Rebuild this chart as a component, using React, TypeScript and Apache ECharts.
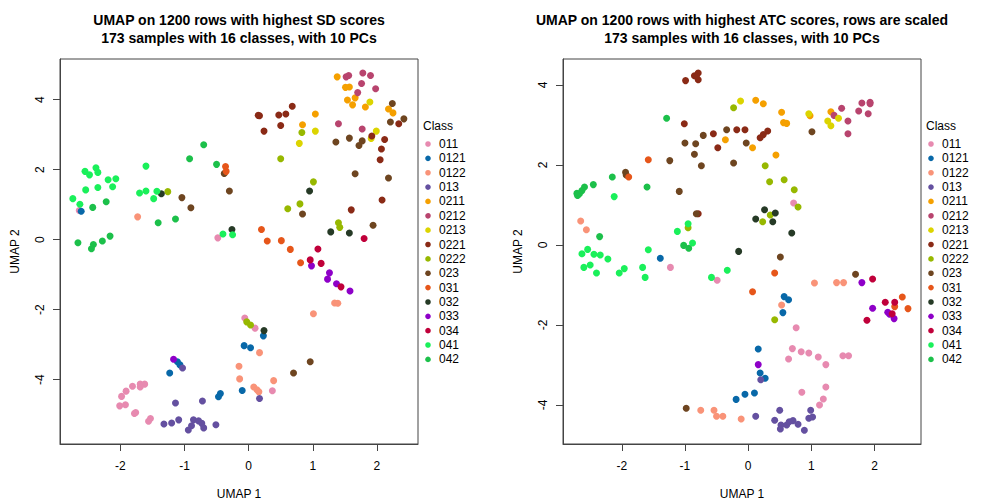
import React, { useEffect, useRef } from "react";
import * as echarts from "echarts";

const CLASSES = ["011", "0121", "0122", "013", "0211", "0212", "0213", "0221", "0222", "023", "031", "032", "033", "034", "041", "042"];
const COLORS = ["#E78AB0", "#0868A8", "#F99378", "#6450A0", "#F5A000", "#B8446E", "#DCD400", "#8A2A16", "#97B800", "#6E4520", "#E6561A", "#263A26", "#8E00C8", "#C0003A", "#1AF05A", "#1CC04A"];
const X_TICKS = [-2, -1, 0, 1, 2];
const Y_TICKS = [-4, -2, 0, 2, 4];

const TITLE_SD = ["UMAP on 1200 rows with highest SD scores", "173 samples with 16 classes, with 10 PCs"];
const TITLE_ATC = ["UMAP on 1200 rows with highest ATC scores, rows are scaled", "173 samples with 16 classes, with 10 PCs"];

// ---- Left panel (SD) ----
const SD_011 = [[-2.64, 0.83], [-0.48, 0.05], [-0.06, -2.24], [0.10, -2.53], [0.37, -4.32], [-1.81, -4.19], [-1.69, -4.13], [-1.62, -4.13], [-1.69, -4.21], [-1.91, -4.33], [-1.98, -4.48], [-2.01, -4.75], [-1.92, -4.72], [-1.76, -4.94], [-1.78, -4.97], [-1.53, -5.11], [-1.56, -5.19]];
const SD_0121 = [[-2.61, 0.81], [0.23, -2.75], [-0.07, -3.03], [0.03, -3.09], [-0.10, -4.31], [-1.11, -3.49], [-1.07, -3.58], [-1.23, -3.81], [-0.44, -4.40], [-0.47, -4.49]];
const SD_0122 = [[-1.73, 0.65], [1.34, -1.81], [1.39, -1.82], [1.01, -2.12], [0.17, -3.23], [-0.15, -3.62], [-0.14, -3.98], [0.08, -4.21], [0.13, -4.29], [0.16, -4.35], [0.39, -4.03]];
const SD_013 = [[0.17, -4.54], [-1.03, -3.67], [-1.14, -4.67], [-0.72, -4.61], [-1.32, -5.27], [-1.20, -5.24], [-1.09, -5.15], [-0.94, -5.44], [-0.89, -5.32], [-0.86, -5.15], [-0.78, -5.18], [-0.73, -5.25], [-0.70, -5.38], [-0.51, -5.29]];
const SD_0211 = [[1.38, 4.65], [1.51, 4.35], [1.57, 4.36], [1.54, 3.99], [1.66, 4.05], [1.62, 3.85], [1.82, 3.79], [2.18, 3.73], [2.25, 3.62], [1.04, 3.59], [0.84, 3.28]];
const SD_0212 = [[1.52, 4.65], [1.56, 4.69], [1.78, 4.76], [1.90, 4.69], [1.76, 4.46], [1.70, 4.20], [1.98, 4.31], [1.40, 3.31], [1.77, 3.16]];
const SD_0213 = [[1.89, 3.93], [1.04, 3.10], [1.99, 3.10], [1.91, 2.89], [0.79, 2.75]];
const SD_0221 = [[0.68, 3.81], [0.17, 3.54], [0.15, 3.55], [0.47, 3.56], [0.58, 3.59], [0.50, 3.26], [0.24, 3.10], [2.34, 3.31], [1.92, 2.96], [2.12, 2.86], [2.07, 2.59], [2.05, 2.28], [2.08, 1.13], [1.60, 0.85]];
const SD_0222 = [[-1.26, 1.37], [0.83, 3.06], [0.50, 2.31], [1.01, 1.65], [0.80, 1.02], [0.61, 0.88], [1.40, 0.48], [1.42, 0.35], [-0.03, -2.35], [0.03, -2.44]];
const SD_023 = [[-0.38, 1.89], [-0.30, 1.39], [-1.04, 1.20], [-0.90, 0.91], [2.24, 3.89], [2.21, 3.36], [2.42, 3.45], [1.57, 2.90], [1.77, 2.82], [1.72, 2.69], [1.36, 2.79], [1.66, 1.88], [2.18, 1.76], [0.84, 0.73], [1.94, 0.41], [0.96, -3.49], [0.70, -3.81]];
const SD_031 = [[-0.36, 2.09], [-0.35, 1.95], [0.20, 0.29], [0.29, -0.04], [0.51, -0.03], [0.65, -0.28], [0.81, -0.66]];
const SD_032 = [[-1.36, 1.31], [-0.26, 0.29], [0.95, 1.39], [1.28, 0.22], [1.57, 0.19], [0.24, -2.60]];
const SD_033 = [[0.98, -0.75], [1.26, -0.95], [1.23, -1.13], [1.37, -1.26], [1.58, -1.47], [-1.17, -3.42]];
const SD_034 = [[1.80, 0.03], [1.08, -0.27], [0.96, -0.58], [1.13, -0.68], [1.44, -1.35]];
const SD_041 = [[-1.60, 2.10], [-2.38, 2.05], [-2.55, 1.95], [-2.35, 1.92], [-2.48, 1.85], [-2.07, 1.74], [-2.19, 1.71], [-2.35, 1.49], [-2.12, 1.51], [-2.54, 1.42], [-2.74, 1.17], [-2.63, 1.01], [-1.70, 1.33], [-1.60, 1.39], [-1.43, 1.38], [-1.48, 1.17], [-0.40, 0.16], [-0.25, 0.14]];
const SD_042 = [[-0.70, 2.71], [-0.92, 2.31], [-0.50, 2.15], [-2.43, 0.92], [-2.22, 1.08], [-1.41, 0.48], [-1.14, 0.59], [-2.66, -0.09], [-2.42, -0.14], [-2.45, -0.26], [-2.28, -0.04], [-2.16, 0.10]];

// ---- Right panel (ATC) ----
const ATC_011 = [[0.72, 1.05], [-1.23, -0.56], [-0.49, -0.88], [0.76, -2.07], [0.70, -2.59], [0.84, -2.67], [0.96, -2.70], [0.64, -2.85], [1.11, -2.80], [1.23, -2.99], [1.50, -2.77], [1.59, -2.77], [0.85, -3.68], [1.23, -3.55], [1.19, -3.85], [1.13, -4.00]];
const ATC_0121 = [[-1.39, -0.33], [0.57, -1.29], [0.64, -1.37], [0.55, -1.69], [0.16, -2.60], [0.19, -3.20], [0.27, -3.33], [-0.19, -3.86], [-0.05, -3.73], [0.10, -3.70]];
const ATC_0122 = [[-2.65, 0.60], [-2.56, 0.38], [1.05, -0.95], [1.40, -0.94], [1.51, -0.94], [0.53, -1.50], [-0.75, -4.13], [-0.54, -4.13], [-0.50, -4.28], [-0.40, -4.28], [-0.11, -4.35]];
const ATC_013 = [[0.20, -3.37], [0.12, -4.28], [0.50, -4.13], [0.42, -4.38], [0.52, -4.50], [0.51, -4.60], [0.61, -4.50], [0.65, -4.42], [0.71, -4.39], [0.79, -4.48], [0.89, -4.63], [0.99, -4.13], [0.96, -4.33], [1.02, -4.30]];
const ATC_0211 = [[0.12, 3.62], [0.24, 3.53], [0.53, 3.32], [0.56, 3.06], [0.61, 3.04], [0.98, 3.23], [1.31, 3.33], [-0.36, 2.63], [0.07, 2.43], [0.44, 2.25]];
const ATC_0212 = [[1.36, 3.24], [1.48, 3.42], [1.58, 3.10], [1.58, 2.78], [1.75, 3.35], [1.80, 3.55], [1.93, 3.57], [1.93, 3.53], [1.90, 3.28]];
const ATC_0213 = [[-0.12, 3.60], [0.96, 3.28], [1.26, 3.10], [1.31, 2.98], [1.43, 3.17]];
const ATC_0221 = [[-0.99, 4.11], [-0.85, 4.23], [-0.79, 4.30], [-0.79, 4.13], [-0.82, 4.22], [-1.01, 3.03], [-0.55, 2.78], [-0.18, 2.88], [-0.05, 2.88], [-0.48, 2.43], [0.19, 2.68], [0.24, 2.76], [0.31, 2.85], [-0.79, 0.78]];
const ATC_0222 = [[-0.23, 3.43], [0.27, 1.98], [0.34, 1.58], [0.57, 1.63], [0.73, 1.38], [0.79, 0.95], [0.35, 0.75], [0.23, 0.58], [-0.95, 0.43], [0.42, -1.87]];
const ATC_023 = [[1.01, 2.83], [-1.00, 2.55], [-0.83, 2.53], [-0.71, 2.74], [-0.34, 2.88], [-0.03, 2.55], [-0.85, 2.27], [-0.74, 1.98], [-1.24, 2.11], [-0.23, 2.05], [-1.94, 1.82], [-1.93, 1.75], [-1.09, 1.34], [-0.82, 0.78], [0.51, -0.30], [1.70, -0.73], [-0.98, -4.08]];
const ATC_031 = [[-1.58, 2.13], [-1.89, 1.70], [0.42, -0.70], [0.07, -1.17], [2.44, -1.30], [2.32, -1.54], [2.53, -1.59]];
const ATC_032 = [[0.26, 0.88], [0.43, 0.80], [0.12, 0.65], [0.39, 0.58], [0.69, 0.30], [-0.15, -0.16]];
const ATC_033 = [[1.80, -0.94], [1.97, -1.58], [2.21, -1.68], [2.24, -1.73], [2.31, -1.84], [0.16, -2.99]];
const ATC_034 = [[1.97, -0.85], [2.17, -1.43], [2.32, -1.43], [2.28, -1.72], [1.88, -1.88]];
const ATC_041 = [[-2.12, 1.21], [-0.95, 0.53], [-1.12, 0.34], [-0.88, 0.05], [-2.54, -0.11], [-2.63, -0.22], [-2.44, -0.23], [-2.34, -0.25], [-2.22, -0.35], [-2.60, -0.56], [-2.50, -0.50], [-2.40, -0.70], [-2.04, -0.70], [-1.96, -0.59], [-1.67, -0.56], [-1.63, -0.81], [-1.58, -0.12], [-0.58, -0.81], [-0.33, -0.63]];
const ATC_042 = [[-1.29, 3.17], [-2.15, 1.70], [-2.45, 1.51], [-2.59, 1.45], [-2.63, 1.36], [-2.71, 1.29], [-2.67, 1.28], [-2.70, 1.24], [-1.60, 1.45], [-2.35, 0.21], [-1.02, -0.01], [-0.94, -0.08]];

const SD_POINTS = [SD_011, SD_0121, SD_0122, SD_013, SD_0211, SD_0212, SD_0213, SD_0221, SD_0222, SD_023, SD_031, SD_032, SD_033, SD_034, SD_041, SD_042];
const ATC_POINTS = [ATC_011, ATC_0121, ATC_0122, ATC_013, ATC_0211, ATC_0212, ATC_0213, ATC_0221, ATC_0222, ATC_023, ATC_031, ATC_032, ATC_033, ATC_034, ATC_041, ATC_042];

const FONT = "'Liberation Sans', Arial, Helvetica, sans-serif";

const PANELS = [
  { left: 60, xMin: -2.94, xMax: 2.64, yMin: -5.84, yMax: 5.16, title: TITLE_SD, points: SD_POINTS },
  { left: 563, xMin: -2.93, xMax: 2.736, yMin: -4.975, yMax: 4.65, title: TITLE_ATC, points: ATC_POINTS },
];
const GRID_TOP = 59;
const GRID_W = 358;
const GRID_H = 385;

export default function App() {
  const ref = useRef<HTMLDivElement>(null);
  useEffect(() => {
    if (!ref.current) return;
    const chart = echarts.init(ref.current, undefined, { renderer: "svg" });

    const grids: any[] = [];
    const xAxes: any[] = [];
    const yAxes: any[] = [];
    const series: any[] = [];
    const graphics: any[] = [];

    PANELS.forEach((p, pi) => {
      grids.push({ left: p.left, top: GRID_TOP, width: GRID_W, height: GRID_H, show: true, borderColor: "#444", borderWidth: 1, backgroundColor: "transparent", containLabel: false });
      const tickStyle = { show: true, inside: false, length: 7, lineStyle: { color: "#444", width: 1 } };
      const lineStyle = { show: true, onZero: false, lineStyle: { color: "#444", width: 1 } };
      xAxes.push({
        gridIndex: pi, type: "value", min: p.xMin, max: p.xMax, position: "bottom",
        axisLine: lineStyle, splitLine: { show: false },
        axisTick: { ...tickStyle, customValues: X_TICKS },
        axisLabel: { customValues: X_TICKS, margin: 16, fontSize: 12, color: "#000", fontFamily: FONT },
      });
      yAxes.push({
        gridIndex: pi, type: "value", min: p.yMin, max: p.yMax, position: "left",
        axisLine: lineStyle, splitLine: { show: false },
        axisTick: { ...tickStyle, customValues: Y_TICKS },
        axisLabel: { customValues: Y_TICKS, rotate: 90, margin: 14, fontSize: 12, color: "#000", fontFamily: FONT },
      });
      p.points.forEach((pts, ci) => {
        series.push({
          type: "scatter", name: CLASSES[ci], xAxisIndex: pi, yAxisIndex: pi,
          data: pts, symbol: "circle", symbolSize: 7,
          itemStyle: { color: COLORS[ci], opacity: 1 }, silent: true,
        });
      });
      const cx = p.left + GRID_W / 2;
      graphics.push({ type: "text", x: cx, y: 20, style: { text: p.title[0], textAlign: "center", textVerticalAlign: "middle", fontSize: 14, fontWeight: "bold", fontFamily: FONT, fill: "#000" } });
      graphics.push({ type: "text", x: cx, y: 38, style: { text: p.title[1], textAlign: "center", textVerticalAlign: "middle", fontSize: 14, fontWeight: "bold", fontFamily: FONT, fill: "#000" } });
      graphics.push({ type: "text", x: cx, y: 494, style: { text: "UMAP 1", textAlign: "center", textVerticalAlign: "middle", fontSize: 12, fontFamily: FONT, fill: "#000" } });
      graphics.push({ type: "text", x: p.left - 45, y: GRID_TOP + GRID_H / 2, rotation: Math.PI / 2, style: { text: "UMAP 2", textAlign: "center", textVerticalAlign: "middle", fontSize: 12, fontFamily: FONT, fill: "#000" } });
      const lx = p.left + GRID_W + 5;
      graphics.push({ type: "text", x: lx, y: 126, style: { text: "Class", textAlign: "left", textVerticalAlign: "middle", fontSize: 12, fontFamily: FONT, fill: "#000" } });
      CLASSES.forEach((c, ci) => {
        const yy = 144 + 14.36 * ci;
        graphics.push({ type: "circle", shape: { cx: lx + 5, cy: yy, r: 2.8 }, style: { fill: COLORS[ci] } });
        graphics.push({ type: "text", x: lx + 16, y: yy, style: { text: c, textAlign: "left", textVerticalAlign: "middle", fontSize: 12, fontFamily: FONT, fill: "#000" } });
      });
    });

    chart.setOption({
      animation: false,
      backgroundColor: "#fff",
      grid: grids,
      xAxis: xAxes,
      yAxis: yAxes,
      series,
      graphic: graphics,
    });
    return () => chart.dispose();
  }, []);
  return <div ref={ref} style={{ position: "fixed", left: 0, top: 0, width: 1008, height: 504 }} />;
}
